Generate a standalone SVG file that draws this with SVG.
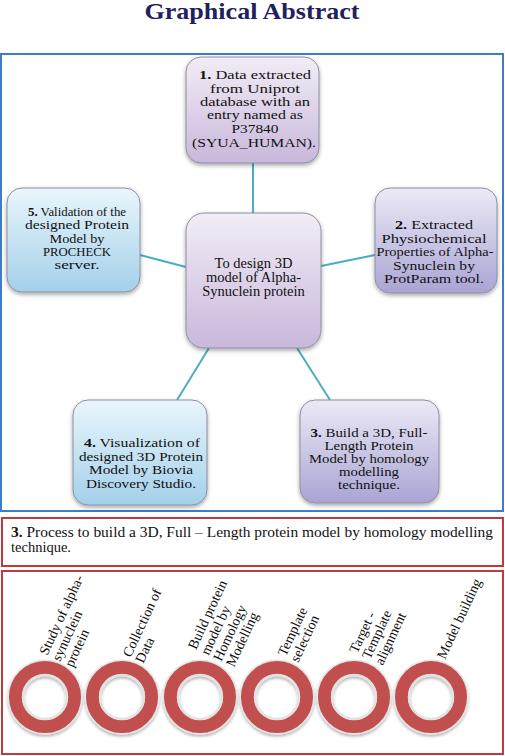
<svg xmlns="http://www.w3.org/2000/svg" width="505" height="756" viewBox="0 0 505 756" font-family="'Liberation Serif', 'Times New Roman', serif">
<defs>
<linearGradient id="gPurple" x1="0" y1="0" x2="0" y2="1"><stop offset="0" stop-color="#f2edf6"/><stop offset="1" stop-color="#c8b8db"/></linearGradient>
<linearGradient id="gLav" x1="0" y1="0" x2="0" y2="1"><stop offset="0" stop-color="#eceaf6"/><stop offset="1" stop-color="#a9a4d4"/></linearGradient>
<linearGradient id="gBlue" x1="0" y1="0" x2="0" y2="1"><stop offset="0" stop-color="#e9f6fc"/><stop offset="1" stop-color="#a4d0ea"/></linearGradient>
<filter id="sh" x="-20%" y="-20%" width="140%" height="140%"><feDropShadow dx="0" dy="2" stdDeviation="2" flood-color="#000" flood-opacity="0.35"/></filter>
<filter id="rsh" x="-20%" y="-20%" width="140%" height="140%"><feDropShadow dx="0" dy="2" stdDeviation="1.5" flood-color="#000" flood-opacity="0.3"/></filter>
</defs>
<style>
.node{stroke:#8e8ea0;stroke-width:1;filter:url(#sh)}
.t{font-size:13px;fill:#111;text-anchor:middle}
.b{font-weight:bold}
.con{stroke:#4bacc6;stroke-width:2;fill:none}
.ring{fill:none;stroke:#c0504d;stroke-width:13}
.halo{fill:none;stroke:#e2e2e2;stroke-width:2.5}
.lbl{font-size:14px;fill:#111}
</style>
<text x="252" y="19" text-anchor="middle" font-family="'Liberation Serif', 'DejaVu Serif', serif" font-weight="bold" font-size="23" fill="#1f215e" textLength="215" lengthAdjust="spacingAndGlyphs">Graphical Abstract</text>
<rect x="1" y="54" width="502" height="457" fill="none" stroke="#3a7dc9" stroke-width="2"/>
<g id="connectors">
<line class="con" x1="253" y1="163" x2="253" y2="213"/>
<line class="con" x1="140" y1="255" x2="186" y2="267"/>
<line class="con" x1="321" y1="266" x2="375" y2="255"/>
<line class="con" x1="209" y1="348" x2="177" y2="400"/>
<line class="con" x1="297" y1="348" x2="330" y2="400"/>
</g>
<g id="node1">
<rect class="node" x="186" y="57" width="133" height="106" rx="15" fill="url(#gPurple)"/>
<text class="t" x="255" y="79" textLength="112" lengthAdjust="spacingAndGlyphs"><tspan class="b">1.</tspan> Data extracted</text>
<text class="t" x="255" y="93" textLength="90" lengthAdjust="spacingAndGlyphs">from Uniprot</text>
<text class="t" x="255" y="106" textLength="110" lengthAdjust="spacingAndGlyphs">database with an</text>
<text class="t" x="255" y="119" textLength="96" lengthAdjust="spacingAndGlyphs">entry named as</text>
<text class="t" x="255" y="133" textLength="47" lengthAdjust="spacingAndGlyphs">P37840</text>
<text class="t" x="254" y="147" textLength="124" lengthAdjust="spacingAndGlyphs">(SYUA_HUMAN).</text>
</g>
<g id="center">
<rect class="node" x="186" y="213" width="135" height="135" rx="18" fill="url(#gPurple)"/>
<text class="t" style="font-size:14.5px"><tspan x="253.5" y="268">To design 3D</tspan><tspan x="253.5" y="282">model of Alpha-</tspan><tspan x="253.5" y="296">Synuclein protein</tspan></text>
</g>
<g id="node5">
<rect class="node" x="7" y="188" width="133" height="104" rx="15" fill="url(#gBlue)"/>
<text class="t" x="77" y="216" textLength="98" lengthAdjust="spacingAndGlyphs"><tspan class="b">5.</tspan> Validation of the</text>
<text class="t" x="77" y="229" textLength="104" lengthAdjust="spacingAndGlyphs">designed Protein</text>
<text class="t" x="77" y="243" textLength="55" lengthAdjust="spacingAndGlyphs">Model by</text>
<text class="t" x="77" y="256" textLength="68" lengthAdjust="spacingAndGlyphs">PROCHECK</text>
<text class="t" x="77" y="269" textLength="45" lengthAdjust="spacingAndGlyphs">server.</text>
</g>
<g id="node2">
<rect class="node" x="375" y="188" width="122" height="105" rx="15" fill="url(#gLav)"/>
<text class="t" x="434" y="229" textLength="78" lengthAdjust="spacingAndGlyphs"><tspan class="b">2.</tspan> Extracted</text>
<text class="t" x="434" y="243" textLength="105" lengthAdjust="spacingAndGlyphs">Physiochemical</text>
<text class="t" x="435" y="256" textLength="117" lengthAdjust="spacingAndGlyphs">Properties of Alpha-</text>
<text class="t" x="434" y="270" textLength="82" lengthAdjust="spacingAndGlyphs">Synuclein by</text>
<text class="t" x="434" y="283" textLength="100" lengthAdjust="spacingAndGlyphs">ProtParam tool.</text>
</g>
<g id="node4">
<rect class="node" x="73" y="400" width="134" height="105" rx="15" fill="url(#gBlue)"/>
<text class="t" x="142" y="447" textLength="116" lengthAdjust="spacingAndGlyphs"><tspan class="b">4.</tspan> Visualization of</text>
<text class="t" x="141" y="461" textLength="124" lengthAdjust="spacingAndGlyphs">designed 3D Protein</text>
<text class="t" x="141" y="474" textLength="104" lengthAdjust="spacingAndGlyphs">Model by Biovia</text>
<text class="t" x="141" y="488" textLength="110" lengthAdjust="spacingAndGlyphs">Discovery Studio.</text>
</g>
<g id="node3">
<rect class="node" x="300" y="400" width="139" height="103" rx="15" fill="url(#gLav)"/>
<text class="t" x="369" y="437" textLength="117" lengthAdjust="spacingAndGlyphs"><tspan class="b">3.</tspan> Build a 3D, Full-</text>
<text class="t" x="369" y="450" textLength="89" lengthAdjust="spacingAndGlyphs">Length Protein</text>
<text class="t" x="369" y="463" textLength="120" lengthAdjust="spacingAndGlyphs">Model by homology</text>
<text class="t" x="369" y="476" textLength="60" lengthAdjust="spacingAndGlyphs">modelling</text>
<text class="t" x="369" y="489" textLength="62" lengthAdjust="spacingAndGlyphs">technique.</text>
</g>
<g id="process-title">
<rect x="2" y="518" width="501" height="48" fill="#fff" stroke="#c0393b" stroke-width="2"/>
<text class="lbl" x="11" y="537" style="font-size:14.5px" textLength="482" lengthAdjust="spacingAndGlyphs"><tspan font-weight="bold">3.</tspan> Process to build a 3D, Full – Length protein model by homology modelling</text>
<text class="lbl" x="11" y="552" style="font-size:14.5px">technique.</text>
</g>
<g id="process">
<rect x="2" y="571" width="501" height="183" fill="#fff" stroke="#c0393b" stroke-width="2"/>
<g id="step1">
<g filter="url(#rsh)"><circle cx="45" cy="697" r="36.5" fill="none" stroke="#e4e4e4" stroke-width="2"/><circle class="ring" cx="45" cy="697" r="29.5"/><circle class="halo" cx="45" cy="697" r="22"/></g>
<text class="lbl" transform="translate(60 662) rotate(-65)"><tspan x="0" y="-14">Study of alpha-</tspan><tspan x="0" y="0">synuclein</tspan><tspan x="0" y="14">protein</tspan></text>
</g>
<g id="step2">
<g filter="url(#rsh)"><circle cx="122" cy="697" r="36.5" fill="none" stroke="#e4e4e4" stroke-width="2"/><circle class="ring" cx="122" cy="697" r="29.5"/><circle class="halo" cx="122" cy="697" r="22"/></g>
<text class="lbl" transform="translate(137 661) rotate(-65)"><tspan x="0" y="-7">Collection of</tspan><tspan x="0" y="7">Data</tspan></text>
</g>
<g id="step3">
<g filter="url(#rsh)"><circle cx="200" cy="697" r="36.5" fill="none" stroke="#e4e4e4" stroke-width="2"/><circle class="ring" cx="200" cy="697" r="29.5"/><circle class="halo" cx="200" cy="697" r="22"/></g>
<text class="lbl" transform="translate(215 659) rotate(-65)"><tspan x="0" y="-21">Build protein</tspan><tspan x="0" y="-7">model by</tspan><tspan x="0" y="7">Homology</tspan><tspan x="0" y="21">Modelling</tspan></text>
</g>
<g id="step4">
<g filter="url(#rsh)"><circle cx="277" cy="697" r="36.5" fill="none" stroke="#e4e4e4" stroke-width="2"/><circle class="ring" cx="277" cy="697" r="29.5"/><circle class="halo" cx="277" cy="697" r="22"/></g>
<text class="lbl" transform="translate(292 660) rotate(-65)"><tspan x="0" y="-7">Template</tspan><tspan x="0" y="7">selection</tspan></text>
</g>
<g id="step5">
<g filter="url(#rsh)"><circle cx="354" cy="697" r="36.5" fill="none" stroke="#e4e4e4" stroke-width="2"/><circle class="ring" cx="354" cy="697" r="29.5"/><circle class="halo" cx="354" cy="697" r="22"/></g>
<text class="lbl" transform="translate(370 660) rotate(-65)"><tspan x="0" y="-14">Target -</tspan><tspan x="0" y="0">Template</tspan><tspan x="0" y="14">alignment</tspan></text>
</g>
<g id="step6">
<g filter="url(#rsh)"><circle cx="431" cy="697" r="36.5" fill="none" stroke="#e4e4e4" stroke-width="2"/><circle class="ring" cx="431" cy="697" r="29.5"/><circle class="halo" cx="431" cy="697" r="22"/></g>
<text class="lbl" transform="translate(445 660) rotate(-65)"><tspan x="0" y="0">Model building</tspan></text>
</g>
</g>
</svg>
